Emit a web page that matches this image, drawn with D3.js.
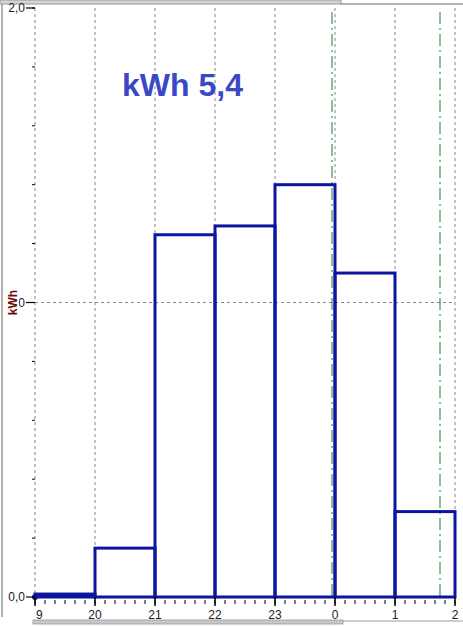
<!DOCTYPE html>
<html>
<head>
<meta charset="utf-8">
<style>
  html, body { margin: 0; padding: 0; overflow: hidden; background: #fff; }
  svg { display: block; }
  text { font-family: "Liberation Sans", Arial, sans-serif; }
  .tick text { font-size: 12px; fill: #222; }
</style>
</head>
<body>
<script src="https://cdn.jsdelivr.net/npm/d3@7"></script>
<script>
// hourly energy, hours counted from 19:00 (19..25 = 19h..1h)
var hourStart = [19, 20, 21, 22, 23, 24, 25];
var kwh = [0.01, 0.166, 1.23, 1.26, 1.40, 1.10, 0.29];
var xTickValues = [19, 20, 21, 22, 23, 24, 25, 26];
var xTickLabels = ["9", "20", "21", "22", "23", "0", "1", "2"];
var yTickValues = [0, 1, 2];
var yTickLabels = ["0,0", "1,0", "2,0"];
var markerLines = [23.95, 25.75];
var title = "kWh 5,4";

var width = 463, height = 626;
var svg = d3.select("body").append("svg")
    .attr("width", width)
    .attr("height", height);

var x = d3.scaleLinear().domain([19, 26]).range([35, 455]);
var y = d3.scaleLinear().domain([0, 2]).range([597, 8]);

// window frame
svg.append("rect").attr("x", 0).attr("y", 0).attr("width", 341).attr("height", 4)
    .attr("fill", "#d4d4d4").attr("stroke", "#999").attr("stroke-width", 1);
svg.append("line").attr("x1", 341).attr("x2", 463).attr("y1", 4).attr("y2", 4)
    .attr("stroke", "#999").attr("stroke-width", 1.5);
svg.append("line").attr("x1", 2).attr("x2", 2).attr("y1", 4).attr("y2", 617)
    .attr("stroke", "#999").attr("stroke-width", 1.5);
svg.append("rect").attr("x", 33).attr("y", 620).attr("width", 310).attr("height", 4)
    .attr("fill", "#c8c8c8").attr("stroke", "#999").attr("stroke-width", 0.8);
svg.append("line").attr("x1", 343).attr("x2", 463).attr("y1", 621).attr("y2", 621)
    .attr("stroke", "#999").attr("stroke-width", 1);

// grid
svg.append("g").selectAll("line")
    .data(xTickValues)
    .enter().append("line")
    .attr("x1", function(d) { return x(d); })
    .attr("x2", function(d) { return x(d); })
    .attr("y1", y(2))
    .attr("y2", y(0))
    .attr("stroke", "#888")
    .attr("stroke-width", 1)
    .attr("stroke-dasharray", "3,3");

svg.append("line")
    .attr("x1", x(19)).attr("x2", x(26))
    .attr("y1", y(1)).attr("y2", y(1))
    .attr("stroke", "#888")
    .attr("stroke-dasharray", "3,3");

// green marker lines
svg.append("g").selectAll("line")
    .data(markerLines)
    .enter().append("line")
    .attr("x1", function(d) { return x(d); })
    .attr("x2", function(d) { return x(d); })
    .attr("y1", y(2) + 4)
    .attr("y2", y(0))
    .attr("stroke", "#1f7a2a")
    .attr("stroke-width", 1)
    .attr("stroke-dasharray", "12,4,2,4");

// bars
svg.append("g").selectAll("rect")
    .data(hourStart)
    .enter().append("rect")
    .attr("x", function(d) { return x(d); })
    .attr("y", function(d, i) { return y(kwh[i]); })
    .attr("width", function(d) { return x(d + 1) - x(d); })
    .attr("height", function(d, i) { return y(0) - y(kwh[i]); })
    .attr("fill", "none")
    .attr("stroke", "#0b15a0")
    .attr("stroke-width", 3);

svg.append("circle").attr("cx", x(19)).attr("cy", y(0)).attr("r", 3).attr("fill", "#0b15a0");

// x axis
var xAxis = svg.append("g")
    .attr("class", "tick")
    .attr("transform", "translate(0," + y(0) + ")");
var xMinor = d3.range(19, 26.01, 1 / 6);
xAxis.selectAll("line.minor")
    .data(xMinor)
    .enter().append("line")
    .attr("x1", function(d) { return x(d); })
    .attr("x2", function(d) { return x(d); })
    .attr("y1", 3).attr("y2", 7)
    .attr("stroke", "#000");
xAxis.selectAll("line.major")
    .data(xTickValues)
    .enter().append("line")
    .attr("x1", function(d) { return x(d); })
    .attr("x2", function(d) { return x(d); })
    .attr("y1", 0).attr("y2", 9)
    .attr("stroke", "#000").attr("stroke-width", 1.5);
xAxis.selectAll("text")
    .data(xTickValues)
    .enter().append("text")
    .attr("x", function(d, i) { return i === 0 ? x(d) + 1 : x(d); })
    .attr("y", 22)
    .attr("text-anchor", function(d, i) { return i === 0 ? "start" : "middle"; })
    .text(function(d, i) { return xTickLabels[i]; });

// y axis
var yAxis = svg.append("g").attr("class", "tick");
var yMinor = d3.range(0, 2.01, 0.2);
yAxis.selectAll("line.minor")
    .data(yMinor)
    .enter().append("line")
    .attr("x1", 32).attr("x2", 35)
    .attr("y1", function(d) { return y(d); })
    .attr("y2", function(d) { return y(d); })
    .attr("stroke", "#000");
yAxis.selectAll("line.major")
    .data(yTickValues)
    .enter().append("line")
    .attr("x1", 26).attr("x2", 35)
    .attr("y1", function(d) { return y(d); })
    .attr("y2", function(d) { return y(d); })
    .attr("stroke", "#000").attr("stroke-width", 1.2);
yAxis.selectAll("text")
    .data(yTickValues)
    .enter().append("text")
    .attr("x", 25)
    .attr("y", function(d) { return y(d) + 4; })
    .attr("text-anchor", "end")
    .text(function(d, i) { return yTickLabels[i]; });

// axis title (covers part of the middle tick label)
svg.append("rect").attr("x", 6).attr("y", 284).attr("width", 13).attr("height", 36).attr("fill", "#fff");
svg.append("text")
    .attr("transform", "translate(17," + y(1) + ") rotate(-90)")
    .attr("text-anchor", "middle")
    .attr("font-size", 12)
    .attr("font-weight", "bold")
    .attr("fill", "#6b0a0a")
    .text("kWh");

// chart title
svg.append("text")
    .attr("x", 122)
    .attr("y", 96)
    .attr("font-size", 32)
    .attr("font-weight", "bold")
    .attr("fill", "#3a48c8")
    .text(title);
</script>
</body>
</html>
